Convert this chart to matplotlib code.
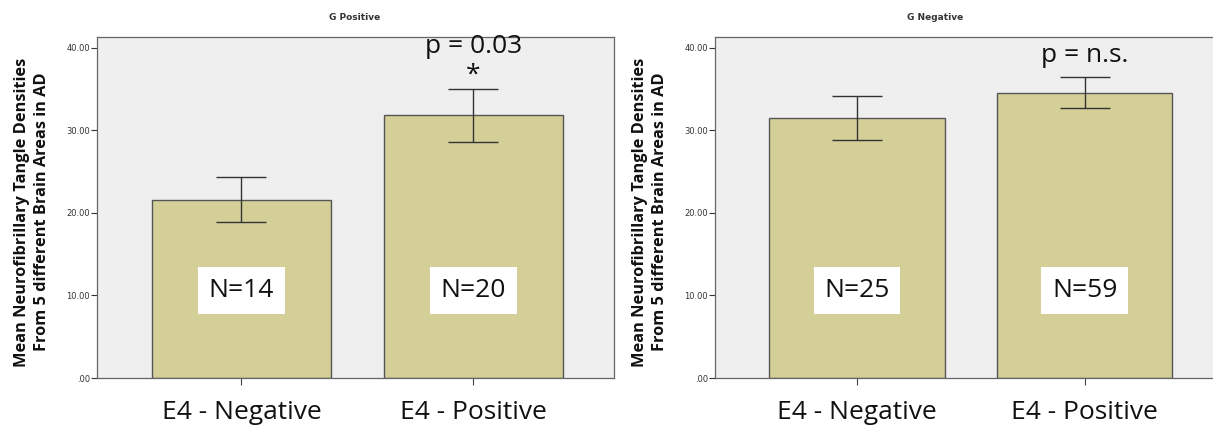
import numpy as np
import matplotlib.pyplot as plt
from matplotlib.ticker import FuncFormatter

# values
groups = ["E4 - Negative", "E4 - Positive"]
panels = ["G Positive", "G Negative"]
means_pos = [21.6, 31.8]
err_lo_pos = [18.9, 28.6]
err_hi_pos = [24.4, 35.0]
means_neg = [31.5, 34.5]
err_lo_neg = [28.8, 32.7]
err_hi_neg = [34.2, 36.4]
n_pos = [14, 20]
n_neg = [25, 59]
p_labels = ["p = 0.03", "p = n.s."]

bar_color = "#d4cf97"
bg_color = "#efefef"
ylabel = "Mean Neurofibrillary Tangle Densities\nFrom 5 different Brain Areas in AD"


def fmt(v, pos):
    return ".00" if v == 0 else f"{v:.2f}"


def draw_panel(ax, means, lo, hi, ns, ptext, star):
    x = np.arange(len(groups))
    ax.set_facecolor(bg_color)
    ax.bar(x, means, width=0.77, color=bar_color, edgecolor="#555555", linewidth=1.0, zorder=2)
    yerr = [np.array(means) - np.array(lo), np.array(hi) - np.array(means)]
    ax.errorbar(x, means, yerr=yerr, fmt="none", ecolor="#333333", elinewidth=1.0,
                capsize=18, capthick=1.0, zorder=3)
    ax.set_xlim(-0.623, 1.607)
    ax.set_ylim(0, 41.3)
    ax.set_yticks([0, 10, 20, 30, 40])
    ax.yaxis.set_major_formatter(FuncFormatter(fmt))
    ax.tick_params(axis="y", labelsize=6, length=4, width=0.8, pad=1, colors="#333333")
    ax.set_xticks(x)
    ax.set_xticklabels(groups, fontsize=19, fontfamily="Open Sans", color="#111111")
    ax.tick_params(axis="x", length=5, width=0.8, pad=11, colors="#444444")
    for lbl in ax.get_xticklabels():
        lbl.set_color("#111111")
    for s in ax.spines.values():
        s.set_color("#666666")
        s.set_linewidth(0.9)
    for xi, n in zip(x, ns):
        ax.text(xi, 10.6, f"N={n}", ha="center", va="center", fontsize=19,
                fontfamily="Open Sans", color="#111111",
                bbox=dict(boxstyle="square,pad=0.4", fc="white", ec="none"), zorder=4)
    ax.text(x[1], 40.1 if star else 39.0, ptext, ha="center", va="center", fontsize=19,
            fontfamily="Open Sans", color="#111111", zorder=4)
    if star:
        ax.text(x[1], 36.7, "*", ha="center", va="center", fontsize=19,
                fontfamily="Open Sans", color="#111111", zorder=4)


fig = plt.figure(figsize=(12.13, 4.25), dpi=100)
ax1 = fig.add_axes([97 / 1213, 47 / 425, 517 / 1213, 341 / 425])
ax2 = fig.add_axes([715 / 1213, 47 / 425, 508 / 1213, 341 / 425])

draw_panel(ax1, means_pos, err_lo_pos, err_hi_pos, n_pos, p_labels[0], True)
draw_panel(ax2, means_neg, err_lo_neg, err_hi_neg, n_neg, p_labels[1], False)

fig.text(355 / 1213, 1 - 17 / 425, panels[0], ha="center", va="center", fontsize=6.5,
         fontweight="bold", fontfamily="Liberation Sans Narrow", color="#333333")
fig.text(935 / 1213, 1 - 17 / 425, panels[1], ha="center", va="center", fontsize=6.5,
         fontweight="bold", fontfamily="Liberation Sans Narrow", color="#333333")

for xc in (32, 650):
    fig.text(xc / 1213, 1 - 212 / 425, ylabel, rotation=90, ha="center", va="center",
             fontsize=11.8, fontweight="bold", fontfamily="Open Sans", linespacing=1.35,
             color="#111111")

fig.savefig("out.png", dpi=100)
